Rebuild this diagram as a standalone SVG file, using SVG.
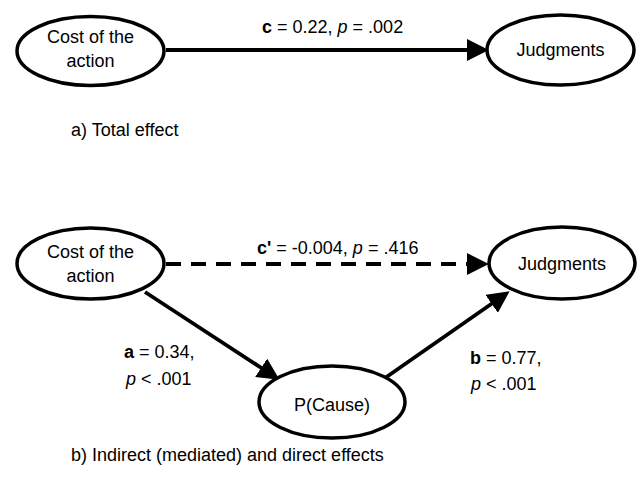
<svg xmlns="http://www.w3.org/2000/svg" width="640" height="488" viewBox="0 0 640 488">
<style>
.node ellipse{fill:#fff;stroke:#000;stroke-width:3.5}
.nt{font-family:"Liberation Sans",Arial,sans-serif;font-size:18px;fill:#000;text-anchor:middle}
.cap{font-family:"Liberation Sans",Arial,sans-serif;font-size:18px;fill:#000}
.lbl{font-family:"Liberation Sans",Arial,sans-serif;font-size:18px;fill:#000}
.b{font-weight:bold}
.i{font-style:italic}
.edge{fill:none;stroke:#000;stroke-width:3.8}
.dash{stroke-dasharray:15 10}
</style>
<defs>
<marker id="ah" markerUnits="userSpaceOnUse" markerWidth="22" markerHeight="22" viewBox="0 0 20 20" refX="2" refY="10" orient="auto">
<path d="M0,0 L20,10 L0,20 z" fill="#000"/>
</marker>
</defs>
<rect width="640" height="488" fill="#fff"/>
<g id="connectors">
<line class="edge" x1="166" y1="50" x2="469" y2="50" marker-end="url(#ah)"/>
<line class="edge dash" x1="166" y1="264" x2="469" y2="264" marker-end="url(#ah)"/>
<line class="edge" x1="145" y1="292" x2="263" y2="369" marker-end="url(#ah)"/>
<line class="edge" x1="385" y1="378" x2="493.4" y2="302.5" marker-end="url(#ah)"/>
</g>
<g id="node-cost-a" class="node">
<ellipse cx="90.5" cy="51" rx="73.5" ry="34.5"/>
<text class="nt" x="90.5" y="43">Cost of the</text>
<text class="nt" x="90.5" y="67">action</text>
</g>
<g id="node-judg-a" class="node">
<ellipse cx="560.5" cy="50" rx="73.5" ry="35"/>
<text class="nt" x="560.5" y="56">Judgments</text>
</g>
<g id="node-cost-b" class="node">
<ellipse cx="90.5" cy="263.5" rx="73.5" ry="35.5"/>
<text class="nt" x="90.5" y="258">Cost of the</text>
<text class="nt" x="90.5" y="282">action</text>
</g>
<g id="node-judg-b" class="node">
<ellipse cx="562" cy="263" rx="73" ry="36"/>
<text class="nt" x="562" y="270">Judgments</text>
</g>
<g id="node-cause" class="node">
<ellipse cx="332" cy="402" rx="73" ry="36"/>
<text class="nt" x="332" y="411">P(Cause)</text>
</g>
<g id="labels">
<text class="lbl" x="262" y="33"><tspan class="b">c</tspan> = 0.22, <tspan class="i">p</tspan> = .002</text>
<text class="lbl" x="257" y="254"><tspan class="b">c'</tspan> = -0.004, <tspan class="i">p</tspan> = .416</text>
<text class="lbl" x="124" y="358"><tspan class="b">a</tspan> = 0.34,</text>
<text class="lbl" x="126" y="385"><tspan class="i">p</tspan> &lt; .001</text>
<text class="lbl" x="470" y="364"><tspan class="b">b</tspan> = 0.77,</text>
<text class="lbl" x="471" y="390"><tspan class="i">p</tspan> &lt; .001</text>
<text class="cap" x="71" y="136">a) Total effect</text>
<text class="cap" x="71" y="461">b) Indirect (mediated) and direct effects</text>
</g>
</svg>
